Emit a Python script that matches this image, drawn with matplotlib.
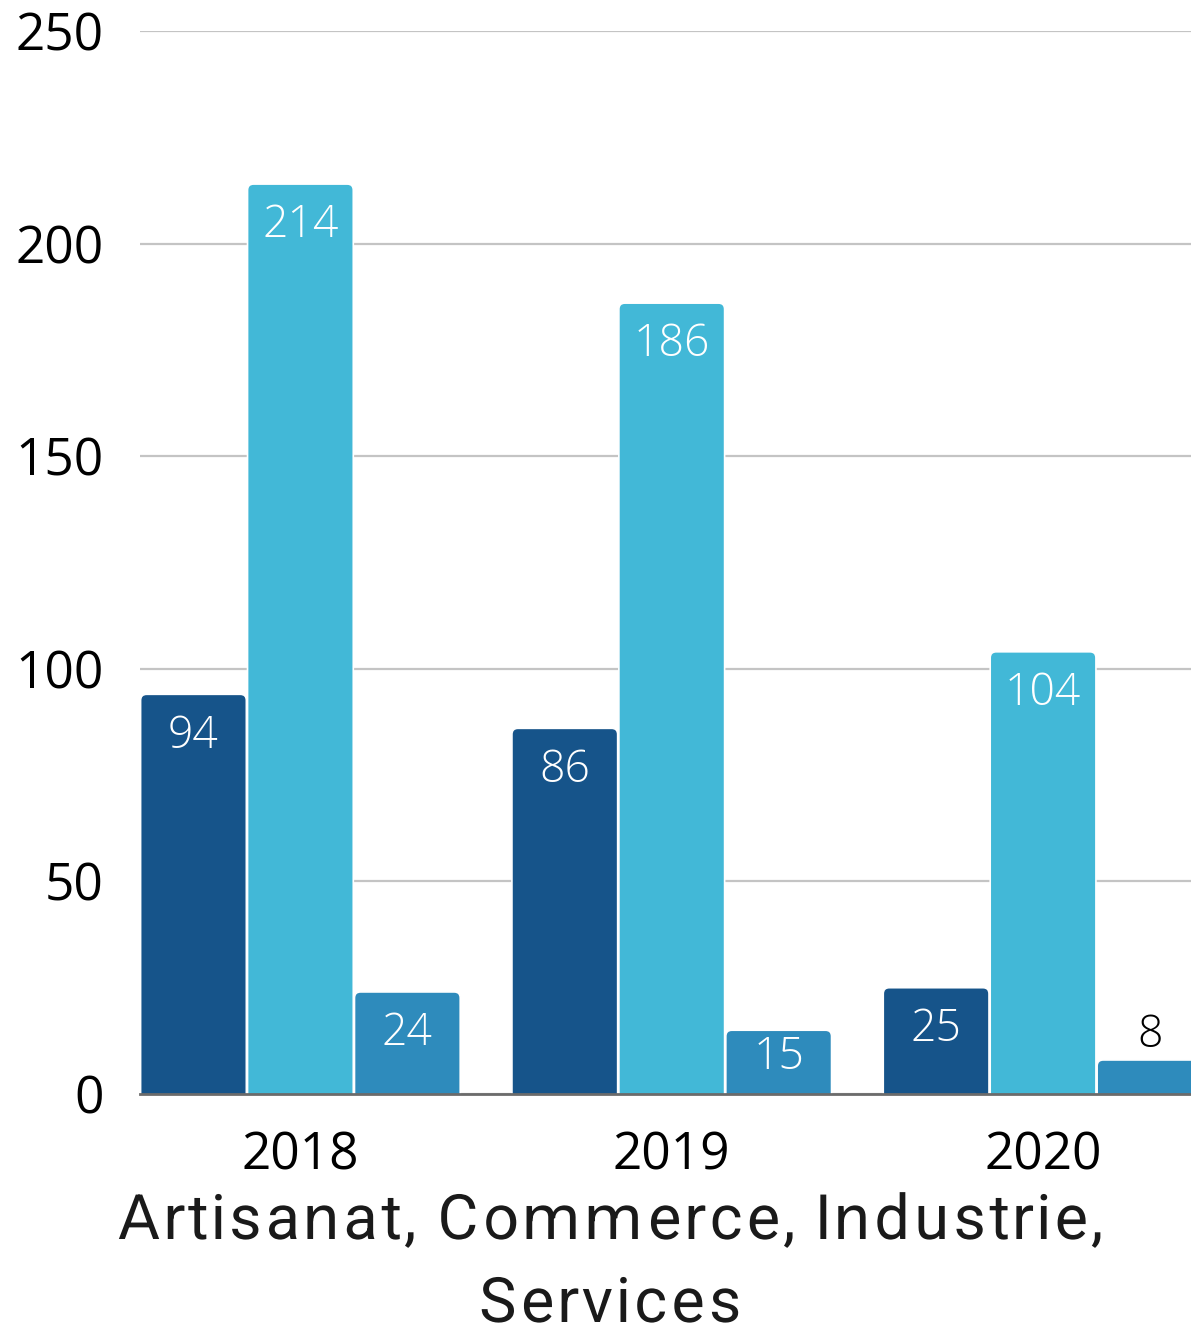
import matplotlib
matplotlib.use("Agg")
import matplotlib.pyplot as plt
from matplotlib.patches import FancyBboxPatch
from matplotlib.patheffects import AbstractPathEffect
from matplotlib.path import Path
from matplotlib.transforms import IdentityTransform
import numpy as np

years = ["2018", "2019", "2020"]
series_a = [94, 86, 25]
series_b = [214, 186, 104]
series_c = [24, 15, 8]
colors = ["#16548a", "#42b8d7", "#2e8bbc"]
title_lines = ["Artisanat, Commerce, Industrie,", "Services"]
yticks = [0, 50, 100, 150, 200, 250]


class Tracking(AbstractPathEffect):
    """Spread glyph contours horizontally (letter-spacing) without scaling them."""

    def __init__(self, k):
        super().__init__()
        self.k = k

    def draw_path(self, renderer, gc, tpath, affine, rgbFace=None):
        p = affine.transform_path(tpath)
        v = p.vertices.copy()
        codes = p.codes
        if codes is None or len(v) == 0:
            renderer.draw_path(gc, p, IdentityTransform(), rgbFace)
            return
        starts = list(np.nonzero(codes == Path.MOVETO)[0]) + [len(v)]
        c0 = (v[:, 0].min() + v[:, 0].max()) / 2
        for s, e in zip(starts[:-1], starts[1:]):
            seg = v[s:e, 0]
            cx = (seg.min() + seg.max()) / 2
            v[s:e, 0] += self.k * (cx - c0)
        renderer.draw_path(gc, Path(v, codes), IdentityTransform(), rgbFace)


W, H = 1191, 1329
fig = plt.figure(figsize=(W / 100, H / 100), dpi=100)
ax = fig.add_axes([140 / W, 1 - 1094 / H, (W - 140) / W, (1094 - 31) / H])

slot = 0.288
x = np.arange(len(years))
xlim = (-1.5 * slot, (W - 300) / 371.5)
ylim = (0, 250)
ax.set_xlim(*xlim)
ax.set_ylim(*ylim)

px_x = (W - 140) / (xlim[1] - xlim[0])
px_y = (1094 - 31) / (ylim[1] - ylim[0])
r_px = 6
rx = r_px / px_x
aspect = px_x / px_y

ax.set_axisbelow(True)
ax.yaxis.grid(True, color="#c4c4c4", linewidth=1.6)
for s in ["top", "right", "left"]:
    ax.spines[s].set_visible(False)
ax.spines["bottom"].set_color("#6b6b6b")
ax.spines["bottom"].set_linewidth(2)
ax.spines["bottom"].set_zorder(5)

for i, (vals, col) in enumerate(zip([series_a, series_b, series_c], colors)):
    bars = ax.bar(x + (i - 1) * slot, vals, width=slot, color=col)
    for b, v in zip(bars, vals):
        x0, w, h = b.get_x(), b.get_width(), b.get_height()
        b.remove()
        g = 0.6 / px_x
        p = FancyBboxPatch((x0 + g, -3 * rx * aspect), w - 2 * g, h + 3 * rx * aspect,
                           boxstyle=f"round,pad=0,rounding_size={rx}",
                           mutation_aspect=aspect, facecolor=col,
                           edgecolor="white", linewidth=1.2, zorder=3)
        ax.add_patch(p)
        cx = x0 + w / 2
        if v * px_y > 60:
            ly = max(v - 42 / px_y, 36 / px_y)
            ax.text(cx, ly, str(v), ha="center", va="center",
                    color="white", fontsize=32, family="Open Sans",
                    fontweight="light", zorder=4)
        else:
            ax.text(cx, v + 24 / px_y, str(v), ha="center", va="center",
                    color="black", fontsize=32, family="Open Sans",
                    fontweight="light", zorder=4)

ax.set_yticks(yticks)
ax.set_yticklabels([str(t) for t in yticks], family="Open Sans", fontsize=37)
ax.set_xticks(x)
ax.set_xticklabels(years, family="Open Sans", fontsize=37)
ax.tick_params(axis="y", length=0, pad=26)
ax.tick_params(axis="x", length=0, pad=26)

for line, base in zip(title_lines, [1239, 1322]):
    fig.text(610 / W, 1 - base / H, line, ha="center", va="baseline",
             family="Roboto", fontsize=45, color="#1a1a1a",
             path_effects=[Tracking(0.135)])

fig.savefig("out.png", dpi=100)
